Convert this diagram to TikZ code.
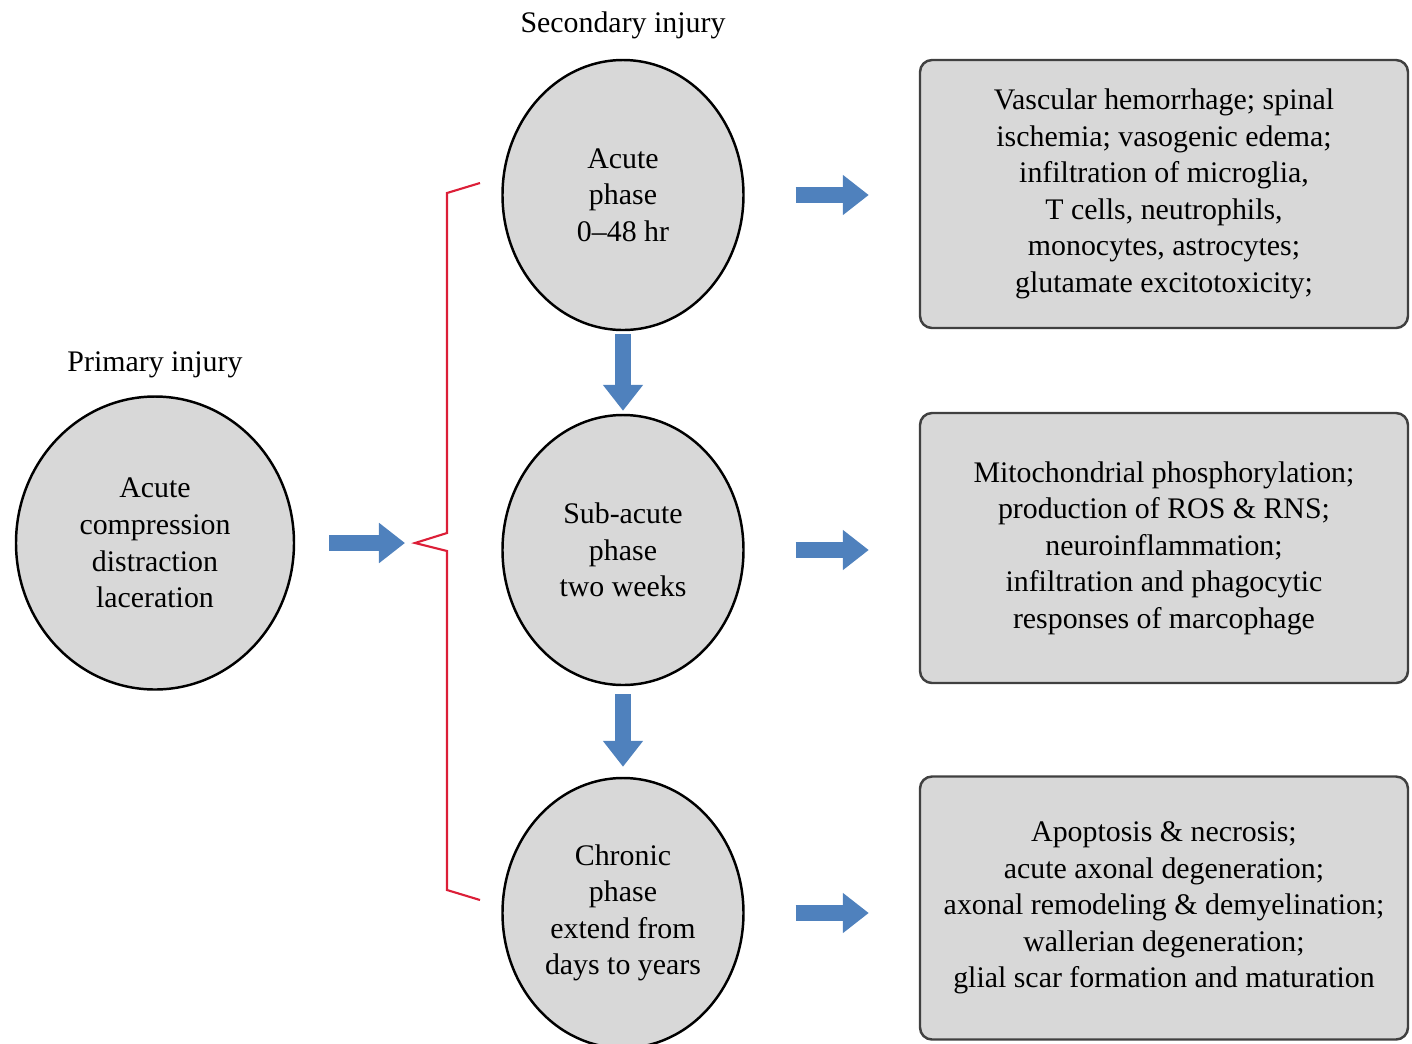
\documentclass[tikz,border=0pt]{standalone}
\usepackage{fontspec}
\setmainfont{Liberation Serif}
\usepackage{tikz}
\usetikzlibrary{shapes.geometric, arrows.meta}

\definecolor{fillgray}{RGB}{216,216,216}
\definecolor{boxline}{RGB}{64,64,64}
\definecolor{arrowblue}{RGB}{79,129,189}
\definecolor{bracered}{RGB}{220,30,55}

\tikzset{
	txt/.style={font=\fontsize{8.5}{10.4}\selectfont, align=center},
	phase/.style={txt, ellipse, draw=black, line width=0.7pt, fill=fillgray, inner sep=0pt, minimum width=2.41cm, minimum height=2.70cm},
	effect/.style={txt, draw=boxline, line width=0.7pt, fill=fillgray, rounded corners=1.2mm, inner sep=0pt, minimum width=4.88cm},
	blockarrow/.style={draw=arrowblue, line width=4.8pt, -{Triangle[width=11pt, length=7.4pt]}}
}

\begin{document}
\begin{tikzpicture}[x=0.1mm, y=-0.1mm]
		\clip (0,0) rectangle (1412,1043);
		% primary injury
		\node[txt] (primtitle) at (155,365) {Primary injury};
		\node[phase, minimum width=2.78cm, minimum height=2.93cm] (prim) at (155,543) {Acute\\compression\\distraction\\laceration};
		% secondary injury
		\node[txt] (sectitle) at (623,25) {Secondary injury};
		\node[phase] (acute) at (623,195) {Acute\\phase\\0--48 hr};
		\node[phase] (subacute) at (623,550) {Sub-acute\\phase\\two weeks};
		\node[phase] (chronic) at (623,913) {Chronic\\phase\\extend from\\days to years};
		% events of each phase
		\node[effect, minimum height=2.68cm] (vasc) at (1164,194) {Vascular hemorrhage; spinal\\ischemia; vasogenic edema;\\infiltration of microglia,\\T cells, neutrophils,\\monocytes, astrocytes;\\glutamate excitotoxicity;};
		\node[effect, minimum height=2.70cm] (mito) at (1164,548) {Mitochondrial phosphorylation;\\production of ROS \& RNS;\\neuroinflammation;\\infiltration and phagocytic\\responses of marcophage};
		\node[effect, minimum height=2.63cm] (apop) at (1164,908) {Apoptosis \& necrosis;\\acute axonal degeneration;\\axonal remodeling \& demyelination;\\wallerian degeneration;\\glial scar formation and maturation};
		% red bracket
		\coordinate (brace) at (415,543);
		\draw[bracered, line width=0.6pt] (480,183) -- (447,193) -- (447,533) -- (brace) -- (447,551) -- (447,890) -- (480,900);
		% arrows
		\draw[blockarrow, shorten <=3.4mm, shorten >=1mm] (prim.east) -- (brace);
		\draw[blockarrow, shorten <=0.3mm, shorten >=0.3mm] (acute.south) -- (subacute.north);
		\draw[blockarrow, shorten <=0.8mm, shorten >=1mm] (subacute.south) -- (chronic.north);
		\draw[blockarrow, shorten <=5.1mm, shorten >=5mm] (acute.east) -- (acute.east -| vasc.west);
		\draw[blockarrow, shorten <=5.1mm, shorten >=5mm] (subacute.east) -- (subacute.east -| mito.west);
		\draw[blockarrow, shorten <=5.1mm, shorten >=5mm] (chronic.east) -- (chronic.east -| apop.west);
	\end{tikzpicture}
\end{document}
